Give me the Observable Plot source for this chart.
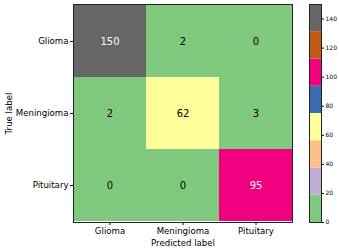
<!DOCTYPE html>
<html><head><meta charset="utf-8">
<script src="https://cdn.jsdelivr.net/npm/d3@7"></script>
<script src="https://cdn.jsdelivr.net/npm/@observablehq/plot@0.6"></script>
<style>body{margin:0;background:#fff}#c{position:relative;width:339px;height:250px}#c svg{position:absolute;top:0}</style>
</head><body><div id="c"></div>
<script>
const classes = ["Glioma", "Meningioma", "Pituitary"];
const matrix = [[150, 2, 0], [2, 62, 3], [0, 0, 95]];
const accent = ["#7fc97f", "#beaed4", "#fdc086", "#ffff99", "#386cb0", "#f0027f", "#bf5b17", "#666666"];
const vmin = 0, vmax = 150;
const cbTicks = [0, 20, 40, 60, 80, 100, 120, 140];

const step = (vmax - vmin) / accent.length;
const thresholds = d3.range(1, accent.length).map(i => vmin + i * step);
const color = {type: "threshold", domain: thresholds, range: accent};

const cells = [];
matrix.forEach((row, i) => row.forEach((v, j) => cells.push({t: classes[i], p: classes[j], v})));

const main = Plot.plot({
  width: 300, height: 250,
  marginLeft: 73, marginRight: 8, marginTop: 4, marginBottom: 28,
  style: {fontFamily: "DejaVu Sans", fontSize: "8.6px", color: "black"},
  x: {domain: classes, padding: 0, label: "Predicted label", labelAnchor: "center", labelOffset: 23, tickSize: 3, tickPadding: 2},
  y: {domain: classes, padding: 0, label: "True label", labelAnchor: "center", labelOffset: 68, tickSize: 3, tickPadding: 2},
  color,
  marks: [
    Plot.cell(cells, {x: "p", y: "t", fill: "v", inset: 0}),
    Plot.text(cells, {x: "p", y: "t", text: d => String(d.v), fill: d => d.v > (vmax + vmin) / 2 ? "white" : "black", fontSize: 10}),
    Plot.frame({stroke: "#222", strokeWidth: 1})
  ]
});

const bins = accent.map((c, i) => ({y1: vmin + i * step, y2: vmin + (i + 1) * step, m: vmin + (i + 0.5) * step}));
const bar = Plot.plot({
  width: 39, height: 250,
  marginLeft: 9, marginRight: 18, marginTop: 4, marginBottom: 28,
  style: {fontFamily: "DejaVu Sans", fontSize: "6px", color: "black"},
  x: {domain: [0, 1], axis: null},
  y: {domain: [vmin, vmax], axis: "right", ticks: cbTicks, tickSize: 2, tickPadding: 2, label: null},
  color,
  marks: [
    Plot.rect(bins, {x1: 0, x2: 1, y1: "y1", y2: "y2", fill: "m"}),
    Plot.frame({stroke: "#222", strokeWidth: 1})
  ]
});
bar.style.left = "300px";
const c = document.getElementById("c");
c.appendChild(main);
c.appendChild(bar);
</script></body></html>
